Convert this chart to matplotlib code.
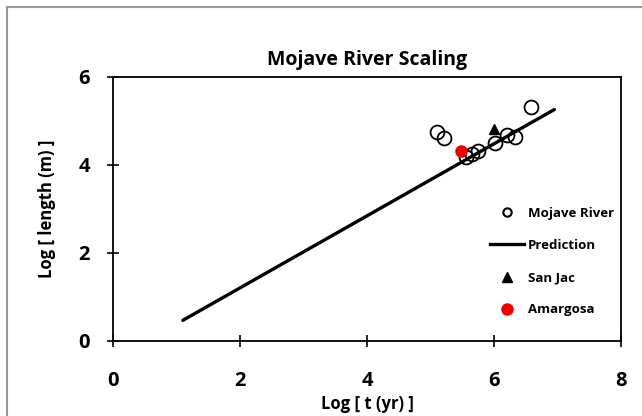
import matplotlib
matplotlib.use("Agg")
import matplotlib.pyplot as plt
from matplotlib.lines import Line2D

plt.rcParams['font.family'] = ['Open Sans', 'DejaVu Sans']

mojave_x = [5.10, 5.21, 5.56, 5.66, 5.75, 6.02, 6.20, 6.33, 6.58]
mojave_y = [4.75, 4.62, 4.18, 4.25, 4.32, 4.50, 4.68, 4.63, 5.32]
pred_x = [1.10, 6.95]
pred_y = [0.47, 5.26]
sanjac_x = [6.00]
sanjac_y = [4.82]
amargosa_x = [5.48]
amargosa_y = [4.32]

fig = plt.figure(figsize=(6.42, 4.16), dpi=100)
ax = fig.add_axes([113/642, 75/416, (621-113)/642, (341-77)/416])

ax.plot(pred_x, pred_y, color='black', lw=2.4, solid_capstyle='round', label='Prediction', zorder=2)
ax.plot(mojave_x, mojave_y, 'o', ms=10, mfc='none', mec='black', mew=1.3, label='Mojave River', zorder=3)
ax.plot(sanjac_x, sanjac_y, '^', ms=7, color='black', label='San Jac', zorder=4)
ax.plot(amargosa_x, amargosa_y, 'o', ms=8, color='#ee0000', label='Amargosa', zorder=4)

ax.set_xlim(0, 8)
ax.set_ylim(0, 6)
ax.set_xticks([0, 2, 4, 6, 8])
ax.set_yticks([0, 2, 4, 6])
ax.tick_params(direction='inout', length=9, width=1.2, labelsize=14.5)
ax.tick_params(axis='x', pad=17)
ax.tick_params(axis='y', pad=12)
for lab in ax.get_xticklabels() + ax.get_yticklabels():
    lab.set_fontweight('bold')
for s in ax.spines.values():
    s.set_linewidth(1.3)

ax.set_xlabel('Log [ t (yr) ]', fontsize=12, fontweight='bold', labelpad=3)
ax.set_ylabel('Log [ length (m) ]', fontsize=12, fontweight='bold', labelpad=16)
ax.set_title('Mojave River Scaling', fontsize=14, fontweight='bold', pad=9)

handles = [
    Line2D([], [], marker='o', ls='none', ms=6, mfc='none', mec='black', mew=1.5),
    Line2D([], [], color='black', lw=2.4),
    Line2D([], [], marker='^', ls='none', ms=7, color='black'),
    Line2D([], [], marker='o', ls='none', ms=8, color='#ee0000'),
]
labels = ['Mojave River', 'Prediction', 'San Jac', 'Amargosa']
leg = ax.legend(handles, labels, loc='upper left', bbox_to_anchor=(478/642, 1 - 195/416),
                bbox_transform=fig.transFigure, frameon=False, handlelength=2.6,
                handletextpad=0.3, labelspacing=1.45,
                prop={'weight': 'bold', 'size': 9.5})

# outer gray frame
fig.add_artist(Line2D([7/642, 7/642], [0, 1 - 7/416], transform=fig.transFigure, color='#999999', lw=1.5))
fig.add_artist(Line2D([7/642, 1], [1 - 7/416, 1 - 7/416], transform=fig.transFigure, color='#999999', lw=1.5))

fig.savefig('out.png', dpi=100)
